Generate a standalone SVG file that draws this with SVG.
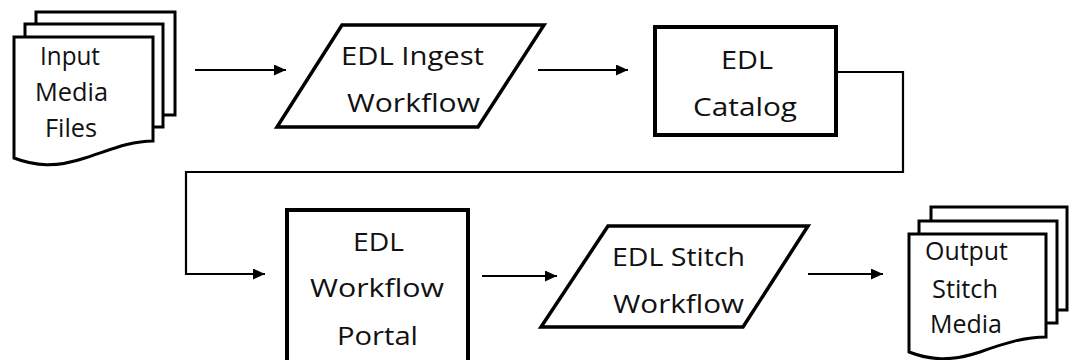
<svg xmlns="http://www.w3.org/2000/svg" width="1069" height="360" viewBox="0 0 1069 360">
<defs>
<marker id="ah" markerUnits="userSpaceOnUse" markerWidth="13" markerHeight="12" refX="12" refY="5.5" orient="auto">
<path d="M0,0 L12,5.5 L0,11 z" fill="#000"/>
</marker>
</defs>
<style>
.doc{fill:#fff;stroke:#000;stroke-width:3;stroke-linejoin:miter}
.para{fill:#fff;stroke:#000;stroke-width:3.5;stroke-linejoin:miter}
.box{fill:#fff;stroke:#000;stroke-width:4}
.t{font-family:"Open Sans","Liberation Sans",sans-serif;font-size:25px;fill:#111}
.c{fill:none;stroke:#000;stroke-width:2.2;marker-end:url(#ah)}
.cn{fill:none;stroke:#000;stroke-width:2.2}
</style>
<rect width="1069" height="360" fill="#fff"/>
<g id="input-media-files">
<rect class="doc" x="36" y="12" width="139" height="103"/>
<rect class="doc" x="25" y="24" width="138" height="103"/>
<path class="doc" d="M14,37 H153 V141 C130,141 110,150 85,158 C55,168 35,166 14,158 Z"/>
<text class="t" x="40" y="65" textLength="60" lengthAdjust="spacingAndGlyphs">Input</text>
<text class="t" x="35" y="101" textLength="73" lengthAdjust="spacingAndGlyphs">Media</text>
<text class="t" x="45" y="137" textLength="52" lengthAdjust="spacingAndGlyphs">Files</text>
</g>
<g id="edl-ingest-workflow">
<polygon class="para" points="342,25 544,25 478,127 277,127"/>
<text class="t" x="341" y="65" textLength="143" lengthAdjust="spacingAndGlyphs">EDL Ingest</text>
<text class="t" x="347" y="112" textLength="133" lengthAdjust="spacingAndGlyphs">Workflow</text>
</g>
<g id="edl-catalog">
<rect class="box" x="655" y="27" width="181" height="108"/>
<text class="t" x="721" y="69" textLength="52" lengthAdjust="spacingAndGlyphs">EDL</text>
<text class="t" x="693" y="116" textLength="104" lengthAdjust="spacingAndGlyphs">Catalog</text>
</g>
<g id="edl-workflow-portal">
<rect class="box" x="287" y="210" width="181" height="153"/>
<text class="t" x="353" y="251" textLength="51" lengthAdjust="spacingAndGlyphs">EDL</text>
<text class="t" x="310" y="297" textLength="134" lengthAdjust="spacingAndGlyphs">Workflow</text>
<text class="t" x="337" y="345" textLength="81" lengthAdjust="spacingAndGlyphs">Portal</text>
</g>
<g id="edl-stitch-workflow">
<polygon class="para" points="608,226 808,226 743,327 541,327"/>
<text class="t" x="612" y="266" textLength="133" lengthAdjust="spacingAndGlyphs">EDL Stitch</text>
<text class="t" x="613" y="313" textLength="131" lengthAdjust="spacingAndGlyphs">Workflow</text>
</g>
<g id="output-stitch-media">
<rect class="doc" x="931" y="207" width="136" height="103"/>
<rect class="doc" x="919" y="221" width="138" height="102"/>
<path class="doc" d="M909,234 H1046 V337 C1025,337 1005,343 980,352 C950,362 930,360 909,352 Z"/>
<text class="t" x="925" y="260" textLength="83" lengthAdjust="spacingAndGlyphs">Output</text>
<text class="t" x="932" y="298" textLength="66" lengthAdjust="spacingAndGlyphs">Stitch</text>
<text class="t" x="930" y="333" textLength="72" lengthAdjust="spacingAndGlyphs">Media</text>
</g>
<g id="connectors">
<line class="c" x1="195" y1="70" x2="286" y2="70"/>
<line class="c" x1="538" y1="70" x2="628" y2="70"/>
<polyline class="c" points="834,72 903,72 903,172 186,172 186,274 265,274"/>
<line class="c" x1="482" y1="276" x2="557" y2="276"/>
<line class="c" x1="808" y1="274" x2="883" y2="274"/>
</g>
</svg>
